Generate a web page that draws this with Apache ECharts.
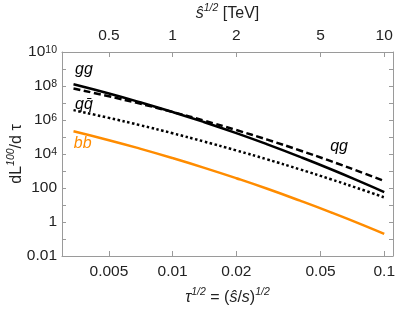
<!DOCTYPE html>
<html><head><meta charset="utf-8">
<script src="https://cdn.jsdelivr.net/npm/echarts@6/dist/echarts.min.js"></script>
<style>html,body{margin:0;padding:0;background:#fff}#c{width:399px;height:309px}</style>
</head><body><div id="c"></div>
<script>
// tau^{1/2} sample points
const tau = [0.0034, 0.005, 0.007, 0.01, 0.014, 0.02, 0.028, 0.04, 0.056, 0.08, 0.1];
// dL^100/dtau for each channel
const gg = [1.28e8, 3.66e7, 1.12e7, 2.95e6, 7.7e5, 1.69e5, 3.7e4, 6.8e3, 1.27e3, 195, 58];
const qg = [7.1e7, 2.48e7, 9.2e6, 2.95e6, 9.4e5, 2.56e5, 7.0e4, 1.61e4, 3.78e3, 740, 257];
const qqbar = [3.8e6, 1.33e6, 5.0e5, 1.66e5, 5.5e4, 1.62e4, 4.8e3, 1.24e3, 325, 74, 28];
const bb = [2.18e5, 6.5e4, 2.08e4, 5.75e3, 1.59e3, 376, 90, 18, 3.7, 0.64, 0.2];
// ticks
const xTicks = [0.005, 0.01, 0.02, 0.05, 0.1];
const xTickLabels = ['0.005', '0.01', '0.02', '0.05', '0.1'];
const topTickLabels = ['0.5', '1', '2', '5', '10'];
const xRange = [0.003, 0.11];
const yRange = [0.01, 1e10];

const FONT = 'Liberation Sans';
const TXT = '#222';
const AX = '#9a9a9a';
const lg = Math.log10;
const xTickPos = xTicks.map(lg);
const pick = (labels) => (v) => {
  let best = 0;
  for (let i = 1; i < xTickPos.length; i++) if (Math.abs(xTickPos[i] - v) < Math.abs(xTickPos[best] - v)) best = i;
  return labels[best];
};
const nameRich = {
  t: { fontSize: 16, lineHeight: 19, verticalAlign: 'bottom', fontFamily: FONT, color: TXT },
  i: { fontSize: 16, lineHeight: 19, verticalAlign: 'bottom', fontStyle: 'italic', fontFamily: FONT, color: TXT },
  s: { fontSize: 10.5, lineHeight: 11, verticalAlign: 'top', fontStyle: 'italic', fontFamily: FONT, color: TXT }
};
const labelRich = {
  b: { fontSize: 15.5, lineHeight: 15, verticalAlign: 'bottom', fontFamily: FONT, color: TXT },
  s: { fontSize: 10.5, lineHeight: 11, verticalAlign: 'top', fontFamily: FONT, color: TXT }
};
const axisLine = { show: true, lineStyle: { color: AX, width: 1 } };

function xAxisCfg(pos, labels, name, gap) {
  return {
    type: 'value', position: pos, min: lg(xRange[0]), max: lg(xRange[1]),
    axisLine: axisLine,
    axisTick: { show: true, inside: true, length: 5, lineStyle: { color: AX }, customValues: xTickPos },
    axisLabel: { show: true, customValues: xTickPos, formatter: pick(labels), fontSize: 15.5, fontFamily: FONT, color: TXT, margin: 8 },
    splitLine: { show: false },
    name: name, nameLocation: 'middle', nameGap: gap, nameMoveOverlap: false,
    nameTextStyle: { rich: nameRich }
  };
}
function yAxisCfg(pos, withLabels) {
  return {
    type: 'log', logBase: 10, position: pos, min: yRange[0], max: yRange[1], interval: 1,
    axisLine: axisLine,
    axisTick: { show: true, inside: true, length: 4, lineStyle: { color: AX } },
    axisLabel: {
      show: withLabels, margin: 5,
      formatter: (v) => {
        const e = Math.round(lg(v));
        if (e % 2 !== 0) return '';
        if (e <= 2) return '{b|' + (e === -2 ? '0.01' : e === 0 ? '1' : '100') + '}';
        return '{b|10}{s|' + e + '}';
      },
      rich: labelRich
    },
    splitLine: { show: false },
    name: withLabels ? '{t|dL}{s|100}{t|/d τ}' : '', nameLocation: 'middle', nameGap: 37.5, nameRotate: 90,
    nameMoveOverlap: false,
    nameTextStyle: { rich: nameRich }
  };
}
function tag(text, x, y, color) {
  return {
    symbol: 'circle', symbolSize: 0, silent: true,
    data: [{ coord: [lg(x), y] }],
    label: { show: true, position: 'inside', formatter: text, fontSize: 16, fontStyle: 'italic', fontFamily: FONT, color: color }
  };
}
function line(vals, type, color, mp) {
  return {
    type: 'line', xAxisIndex: 0, yAxisIndex: 0, smooth: true, showSymbol: false, silent: true,
    data: tau.map((t, i) => [lg(t), vals[i]]),
    lineStyle: { color: color, width: 2.5, type: type, cap: 'butt' },
    markPoint: mp
  };
}
const chart = echarts.init(document.getElementById('c'), null, { renderer: 'canvas' });
chart.setOption({
  animation: false,
  grid: { left: 62, right: 6, top: 52, bottom: 53, containLabel: false, outerBoundsMode: 'none' },
  xAxis: [
    xAxisCfg('bottom', xTickLabels, '{i|τ}{s|1/2}{t| = (}{i|ŝ}{t|/}{i|s}{t|)}{s|1/2}', 31),
    xAxisCfg('top', topTickLabels, '{i|ŝ}{s|1/2}{t| [TeV]}', 30)
  ],
  yAxis: [yAxisCfg('left', true), yAxisCfg('right', false)],
  series: [
    line(bb, 'solid', '#ff8c00', tag('bb', 0.00376, 4.2e4, '#ff8c00')),
    line(qqbar, [2.5, 2.5], '#000', tag('qq\u0304', 0.00381, 8.5e6, '#000')),
    line(qg, [7, 3.5], '#000', tag('qg', 0.0612, 2.7e4, '#000')),
    line(gg, 'solid', '#000', tag('gg', 0.00381, 9.1e8, '#000'))
  ]
});
</script></body></html>
